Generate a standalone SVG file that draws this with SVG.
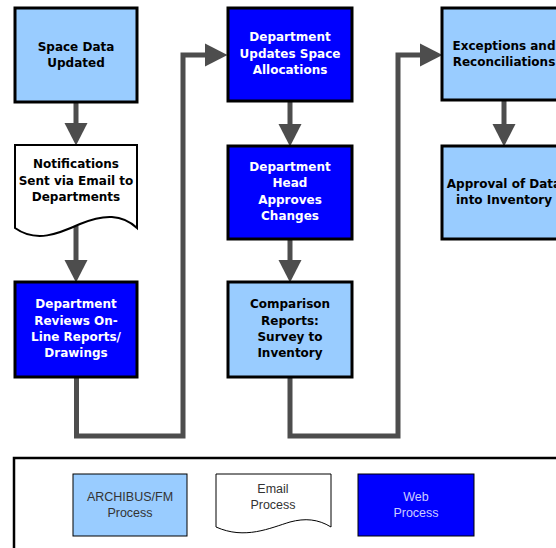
<svg xmlns="http://www.w3.org/2000/svg" width="556" height="548" viewBox="0 0 556 548">
<defs>
<marker id="ah" markerUnits="userSpaceOnUse" markerWidth="23" markerHeight="24" refX="0" refY="12" orient="auto">
<path d="M0,0.5 L22.5,12 L0,23.5 Z" fill="#4d4d4d"/>
</marker>
<style>
.box{stroke:#000;stroke-width:3}
.arch{fill:#99ccff}
.web{fill:#0000ff}
.doc{fill:#fff;stroke:#000;stroke-width:2}
.t{font-family:"DejaVu Sans",Verdana,sans-serif;font-weight:bold;font-size:12px;text-anchor:middle}
.dk{fill:#000}
.wh{fill:#fff}
.conn{fill:none;stroke:#4d4d4d;stroke-width:5;marker-end:url(#ah)}
.lg{font-family:"Liberation Sans",Arial,sans-serif;font-size:12.5px;text-anchor:middle}
.lbox{stroke:#000;stroke-width:1}
</style>
</defs>
<rect width="556" height="548" fill="#fff"/>

<g id="connectors">
<path class="conn" d="M76,102 V123"/>
<path class="conn" d="M76,226 V260"/>
<path class="conn" d="M76.5,377 V436 H183 V55 H205"/>
<path class="conn" d="M290,101 V124"/>
<path class="conn" d="M290,239 V260"/>
<path class="conn" d="M290,377 V436 H398 V55 H420"/>
<path class="conn" d="M504,100 V124"/>
</g>

<g id="space-data-updated">
<rect class="box arch" x="15" y="8" width="122" height="94"/>
<text class="t dk" x="76" y="51">Space Data</text>
<text class="t dk" x="76" y="67">Updated</text>
</g>

<g id="notifications">
<path class="doc" d="M15,145 H137 V228 C122,214 104,214 80,224 C58,234 36,243 15,228 Z"/>
<text class="t dk" x="76" y="168">Notifications</text>
<text class="t dk" x="76" y="184.5">Sent via Email to</text>
<text class="t dk" x="76" y="201">Departments</text>
</g>

<g id="department-reviews">
<rect class="box web" x="15" y="282" width="122" height="95"/>
<text class="t wh" x="76" y="308">Department</text>
<text class="t wh" x="76" y="324.5">Reviews On-</text>
<text class="t wh" x="76" y="341">Line Reports/</text>
<text class="t wh" x="76" y="357">Drawings</text>
</g>

<g id="department-updates">
<rect class="box web" x="228" y="8" width="124" height="93"/>
<text class="t wh" x="290" y="41">Department</text>
<text class="t wh" x="290" y="57.5">Updates Space</text>
<text class="t wh" x="290" y="74">Allocations</text>
</g>

<g id="department-head">
<rect class="box web" x="228" y="146" width="124" height="93"/>
<text class="t wh" x="290" y="171">Department</text>
<text class="t wh" x="290" y="187">Head</text>
<text class="t wh" x="290" y="203.5">Approves</text>
<text class="t wh" x="290" y="220">Changes</text>
</g>

<g id="comparison-reports">
<rect class="box arch" x="228" y="282" width="124" height="95"/>
<text class="t dk" x="290" y="308">Comparison</text>
<text class="t dk" x="290" y="324.5">Reports:</text>
<text class="t dk" x="290" y="341">Survey to</text>
<text class="t dk" x="290" y="357">Inventory</text>
</g>

<g id="exceptions">
<rect class="box arch" x="442" y="8" width="124" height="92"/>
<text class="t dk" x="504" y="50">Exceptions and</text>
<text class="t dk" x="504" y="66">Reconciliations</text>
</g>

<g id="approval">
<rect class="box arch" x="442" y="146" width="124" height="93"/>
<text class="t dk" x="504" y="188">Approval of Data</text>
<text class="t dk" x="504" y="204">into Inventory</text>
</g>

<g id="legend">
<rect x="14" y="458" width="560" height="100" fill="#fff" stroke="#000" stroke-width="2.5"/>
<g id="legend-archibus">
<rect class="lbox arch" x="73" y="474" width="114" height="62"/>
<text class="lg" x="130" y="500.5" fill="#333">ARCHIBUS/FM</text>
<text class="lg" x="130" y="516.5" fill="#333">Process</text>
</g>
<g id="legend-email">
<path d="M216,474 H331 V527 C318,519 305,518 290,522 C270,528 245,540 216,527 Z" fill="#fff" stroke="#000" stroke-width="1"/>
<text class="lg" x="273" y="493" fill="#333">Email</text>
<text class="lg" x="273" y="509" fill="#333">Process</text>
</g>
<g id="legend-web">
<rect class="lbox web" x="358" y="474" width="116" height="62"/>
<text class="lg" x="416" y="500.5" fill="#ccccff">Web</text>
<text class="lg" x="416" y="516.5" fill="#ccccff">Process</text>
</g>
</g>
</svg>
